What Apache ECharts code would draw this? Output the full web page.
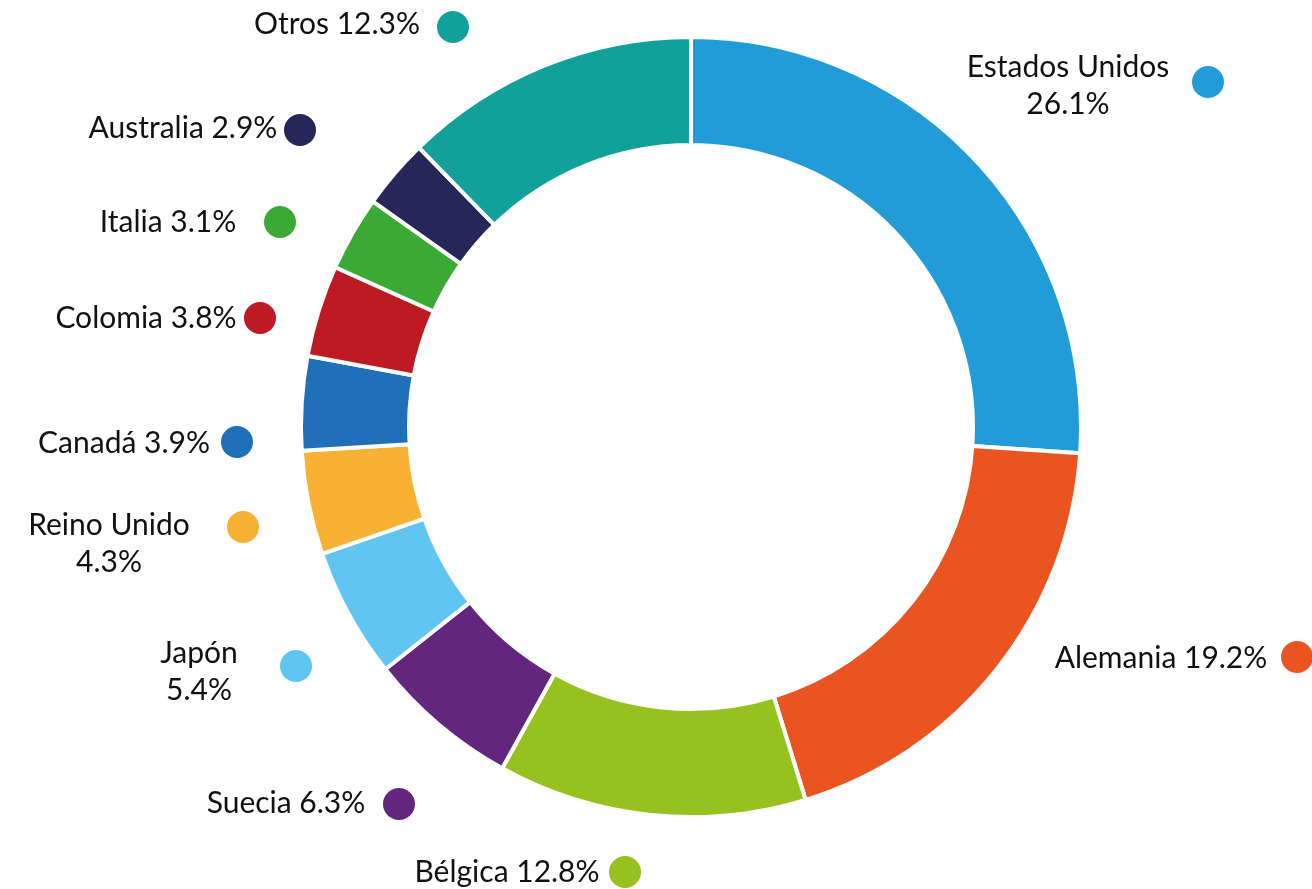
<!DOCTYPE html>
<html>
<head>
<meta charset="utf-8">
<script src="https://cdn.jsdelivr.net/npm/echarts@6/dist/echarts.min.js"></script>
<style>html,body{margin:0;padding:0;background:#fff}#c{width:1312px;height:889px}</style>
</head>
<body>
<div id="c"></div>
<script>
const countries = ['Estados Unidos','Alemania','Bélgica','Suecia','Japón','Reino Unido','Canadá','Colomia','Italia','Australia','Otros'];
const shares = [26.1,19.2,12.8,6.3,5.4,4.3,3.9,3.8,3.1,2.9,12.3];
const colors = ['#229CD8','#E95420','#97C11F','#63267F','#60C5F1','#F8B133','#1F70B8','#BE1A24','#3BAA35','#262759','#12A19A'];
const twoLineLabels = ['Estados Unidos','Japón','Reino Unido'];

// label anchor points (text block centre, dot centre) in pixels
const textAnchors = [[1068,86],[1161,658],[507,872],[286,803],[199,672],[109,544],[124,443],[146,318],[168,222],[183,128],[337,24]];
const dotAnchors = [[1208,82],[1297,657],[625,872],[399,804],[296,666],[243,527],[237,442],[260,318],[280,222],[300,130],[453,27]];

const chart = echarts.init(document.getElementById('c'));
const data = countries.map((n,i)=>({name:n,value:shares[i],itemStyle:{color:colors[i]}}));
const dotData = countries.map((n,i)=>({name:n,value:shares[i],
  itemStyle:{color:'rgba(0,0,0,0)',borderWidth:0},
  label:{backgroundColor:colors[i]}}));
const FONT = 'Lato';
chart.setOption({
  animation:false,
  series:[
    {
      type:'pie', center:[691,427], radius:[282,390], startAngle:90, clockwise:true,
      silent:true,
      itemStyle:{borderColor:'#fff',borderWidth:4},
      data:data,
      label:{show:true,position:'outside',
        formatter:p=>{
          const v = p.value.toFixed(1)+'%';
          return twoLineLabels.includes(p.name) ? p.name+'\n'+v : p.name+' '+v;
        },
        fontFamily:FONT,fontSize:30,color:'#111',lineHeight:37,align:'center'},
      labelLine:{show:false},
      labelLayout:p=>({x:textAnchors[p.dataIndex][0],y:textAnchors[p.dataIndex][1],align:'center',verticalAlign:'middle'})
    },
    {
      type:'pie', center:[691,427], radius:[282,390], startAngle:90, clockwise:true,
      silent:true, z:1,
      data:dotData,
      label:{show:true,position:'outside',formatter:' ',width:32,height:32,borderRadius:16,padding:0,fontSize:1},
      labelLine:{show:false},
      labelLayout:p=>({x:dotAnchors[p.dataIndex][0],y:dotAnchors[p.dataIndex][1],align:'center',verticalAlign:'middle'})
    }
  ]
});
</script>
</body>
</html>
